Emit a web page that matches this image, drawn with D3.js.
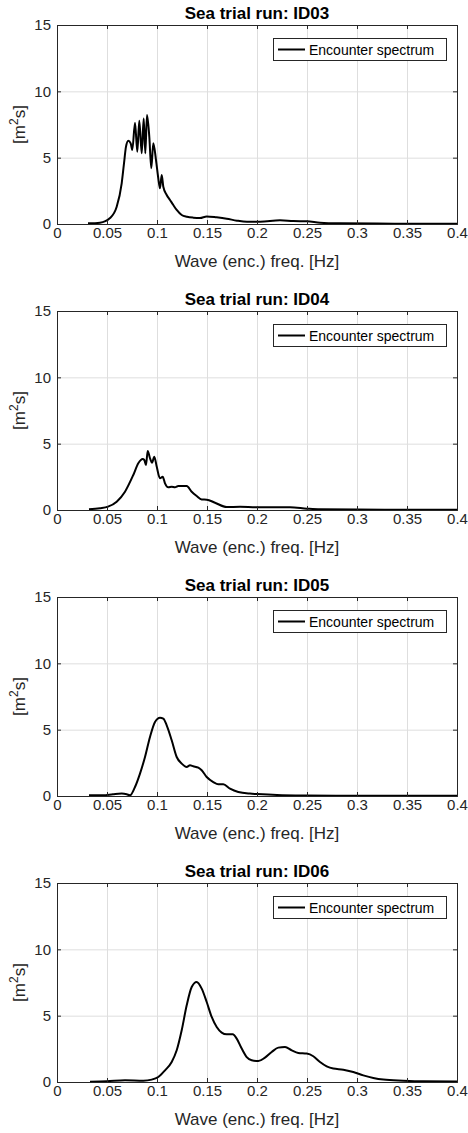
<!DOCTYPE html>
<html lang="en">
<head>
    <meta charset="UTF-8">
    <title>Encounter spectra</title>
    <script src="https://d3js.org/d3.v7.min.js"></script>
    <style>
        body { margin: 0; background: #fff; }
        text { font-family: 'Liberation Sans', Arial, sans-serif; fill: #262626; }
        .grid line { stroke: #dedede; }
        .grid path { display: none; }
        .axis path, .axis line { stroke: #262626; }
        .axis text { font-size: 15px; }
    </style>
</head>
<body>
<script>
    const width  = 468;
    const height = 1133;

    // tick labels
    const xTicks = [0, 0.05, 0.1, 0.15, 0.2, 0.25, 0.3, 0.35, 0.4];
    const yTicks = [0, 5, 10, 15];

    const runNames = ["ID03", "ID04", "ID05", "ID06"];

    // spectra (freq [Hz], S [m^2 s])
    const freqID03 = [0.031, 0.043, 0.053, 0.0597, 0.0647, 0.067, 0.069, 0.0713, 0.0737, 0.0753, 0.078, 0.0803, 0.0823, 0.0847, 0.0867, 0.0883, 0.09, 0.0923, 0.0943, 0.0963, 0.099, 0.1013, 0.103, 0.1047, 0.1063, 0.1097, 0.113, 0.1163, 0.1197, 0.1247, 0.13, 0.1363, 0.143, 0.1497, 0.1597, 0.1697, 0.18, 0.19, 0.203, 0.223, 0.2363, 0.25, 0.263, 0.283, 0.32, 0.36, 0.4];
    const specID03 = [0.05, 0.1, 0.45, 1.3, 3.07, 4.57, 5.83, 6.28, 6.08, 5.58, 7.64, 5.45, 7.78, 5.33, 7.96, 5.33, 8.21, 6.58, 4.2, 6.08, 4.82, 3.44, 2.69, 3.69, 2.81, 2.19, 1.81, 1.43, 1.06, 0.68, 0.55, 0.48, 0.45, 0.57, 0.5, 0.4, 0.25, 0.17, 0.17, 0.28, 0.22, 0.2, 0.1, 0.05, 0.03, 0.02, 0.02];

    const freqID04 = [0.032, 0.043, 0.051, 0.0597, 0.068, 0.0763, 0.0813, 0.0857, 0.0873, 0.089, 0.0907, 0.093, 0.095, 0.0973, 0.0997, 0.103, 0.1057, 0.108, 0.1113, 0.1147, 0.118, 0.1213, 0.1263, 0.1297, 0.1347, 0.1397, 0.1447, 0.1497, 0.158, 0.1697, 0.183, 0.1997, 0.2163, 0.233, 0.25, 0.263, 0.3, 0.35, 0.4];
    const specID04 = [0.05, 0.13, 0.25, 0.63, 1.38, 2.64, 3.52, 3.84, 3.77, 3.39, 4.45, 3.9, 3.57, 4.02, 3.27, 2.39, 2.51, 2.01, 1.71, 1.76, 1.71, 1.81, 1.81, 1.81, 1.38, 1.06, 0.8, 0.78, 0.55, 0.22, 0.25, 0.2, 0.2, 0.2, 0.1, 0.05, 0.03, 0.02, 0.02];

    const freqID05 = [0.032, 0.046, 0.056, 0.0647, 0.0697, 0.073, 0.078, 0.083, 0.088, 0.093, 0.098, 0.103, 0.1063, 0.1097, 0.1147, 0.1197, 0.1247, 0.1297, 0.133, 0.1363, 0.1413, 0.1447, 0.1497, 0.1563, 0.1613, 0.1663, 0.173, 0.1813, 0.193, 0.2, 0.22, 0.25, 0.3, 0.35, 0.4];
    const specID05 = [0.05, 0.05, 0.13, 0.18, 0.13, 0.05, 0.68, 1.69, 2.94, 4.45, 5.58, 5.9, 5.83, 5.33, 4.2, 2.94, 2.44, 2.19, 2.31, 2.24, 2.14, 1.94, 1.43, 1.05, 0.88, 0.88, 0.55, 0.3, 0.18, 0.15, 0.08, 0.04, 0.02, 0.01, 0.01];

    const freqID06 = [0.033, 0.0497, 0.068, 0.0863, 0.0947, 0.1013, 0.108, 0.1147, 0.1197, 0.1247, 0.1297, 0.1347, 0.1397, 0.1447, 0.1497, 0.1547, 0.1597, 0.1647, 0.1697, 0.1757, 0.1797, 0.1847, 0.1897, 0.1947, 0.2013, 0.208, 0.2147, 0.2213, 0.228, 0.2347, 0.2413, 0.2497, 0.2563, 0.263, 0.2697, 0.2763, 0.2863, 0.2963, 0.3063, 0.3163, 0.3263, 0.3463, 0.3663, 0.4];
    const specID06 = [0.02, 0.05, 0.13, 0.1, 0.18, 0.38, 0.88, 1.51, 2.39, 3.9, 5.78, 7.16, 7.54, 7.04, 6.03, 4.9, 4.14, 3.72, 3.59, 3.59, 3.27, 2.52, 1.88, 1.64, 1.58, 1.84, 2.26, 2.59, 2.64, 2.39, 2.19, 2.14, 1.94, 1.51, 1.18, 1.01, 0.93, 0.75, 0.5, 0.3, 0.18, 0.1, 0.05, 0.03];

    const runs = [
        {name: runNames[0], f: freqID03, s: specID03},
        {name: runNames[1], f: freqID04, s: specID04},
        {name: runNames[2], f: freqID05, s: specID05},
        {name: runNames[3], f: freqID06, s: specID06}
    ];

    const left = 57, plotW = 400, plotH = 199, top0 = 25, step = 286;

    const x = d3.scaleLinear().domain([0, 0.4]).range([0, plotW]);
    const y = d3.scaleLinear().domain([0, 15]).range([plotH, 0]);

    const line = d3.line()
            .x(d => x(d[0]))
            .y(d => y(d[1]))
            .curve(d3.curveMonotoneX);

    const svg = d3.select("body")
            .append("svg")
            .attr("width", width)
            .attr("height", height);

    runs.forEach(function(run, i) {
        const g = svg.append("g")
                .attr("transform", "translate(" + [left, top0 + i*step] + ")");

        // grid
        g.append("g").attr("class", "grid")
                .attr("transform", "translate(0," + plotH + ")")
                .call(d3.axisBottom(x).tickValues(xTicks).tickSize(-plotH).tickFormat(""));
        g.append("g").attr("class", "grid")
                .call(d3.axisLeft(y).tickValues(yTicks).tickSize(-plotW).tickFormat(""));

        // curve
        g.append("path")
                .datum(run.f.map((f, k) => [f, run.s[k]]))
                .attr("d", line)
                .attr("fill", "none")
                .attr("stroke", "#000")
                .attr("stroke-width", 2);

        // axes, ticks inward on all four sides
        g.append("g").attr("class", "axis")
                .attr("transform", "translate(0," + plotH + ")")
                .call(d3.axisBottom(x).tickValues(xTicks).tickSize(-4).tickPadding(3)
                        .tickFormat(d => d === 0 ? "0" : String(d)));
        g.append("g").attr("class", "axis")
                .call(d3.axisLeft(y).tickValues(yTicks).tickSize(-4).tickPadding(6));
        g.append("g").attr("class", "axis")
                .call(d3.axisTop(x).tickValues(xTicks).tickSize(-4).tickFormat(""));
        g.append("g").attr("class", "axis")
                .attr("transform", "translate(" + plotW + ",0)")
                .call(d3.axisRight(y).tickValues(yTicks).tickSize(-4).tickFormat(""));

        // title
        g.append("text")
                .attr("x", plotW/2)
                .attr("y", -6.5)
                .attr("text-anchor", "middle")
                .style("font-size", "17px")
                .style("font-weight", "bold")
                .style("fill", "#000")
                .text("Sea trial run: " + run.name);

        // x label
        g.append("text")
                .attr("x", plotW/2)
                .attr("y", plotH + 43)
                .attr("text-anchor", "middle")
                .style("font-size", "17px")
                .text("Wave (enc.) freq. [Hz]");

        // y label
        const yl = g.append("text")
                .attr("transform", "translate(" + (25 - left) + "," + plotH/2 + ") rotate(-90)")
                .attr("text-anchor", "middle")
                .style("font-size", "17px");
        yl.append("tspan").text("[m");
        yl.append("tspan").attr("dy", -7).style("font-size", "12px").text("2");
        yl.append("tspan").attr("dy", 7).text("s]");

        // legend
        const lg = g.append("g").attr("transform", "translate(" + (273 - left) + ",13)");
        lg.append("rect")
                .attr("x", 0.5).attr("y", 0.5)
                .attr("width", 173).attr("height", 22)
                .attr("fill", "#fff")
                .attr("stroke", "#262626")
                .attr("stroke-width", 1);
        lg.append("line")
                .attr("x1", 5).attr("x2", 32)
                .attr("y1", 11.5).attr("y2", 11.5)
                .attr("stroke", "#000")
                .attr("stroke-width", 2);
        lg.append("text")
                .attr("x", 36).attr("y", 17)
                .style("font-size", "14px")
                .style("fill", "#000")
                .text("Encounter spectrum");
    });
</script>
</body>
</html>
